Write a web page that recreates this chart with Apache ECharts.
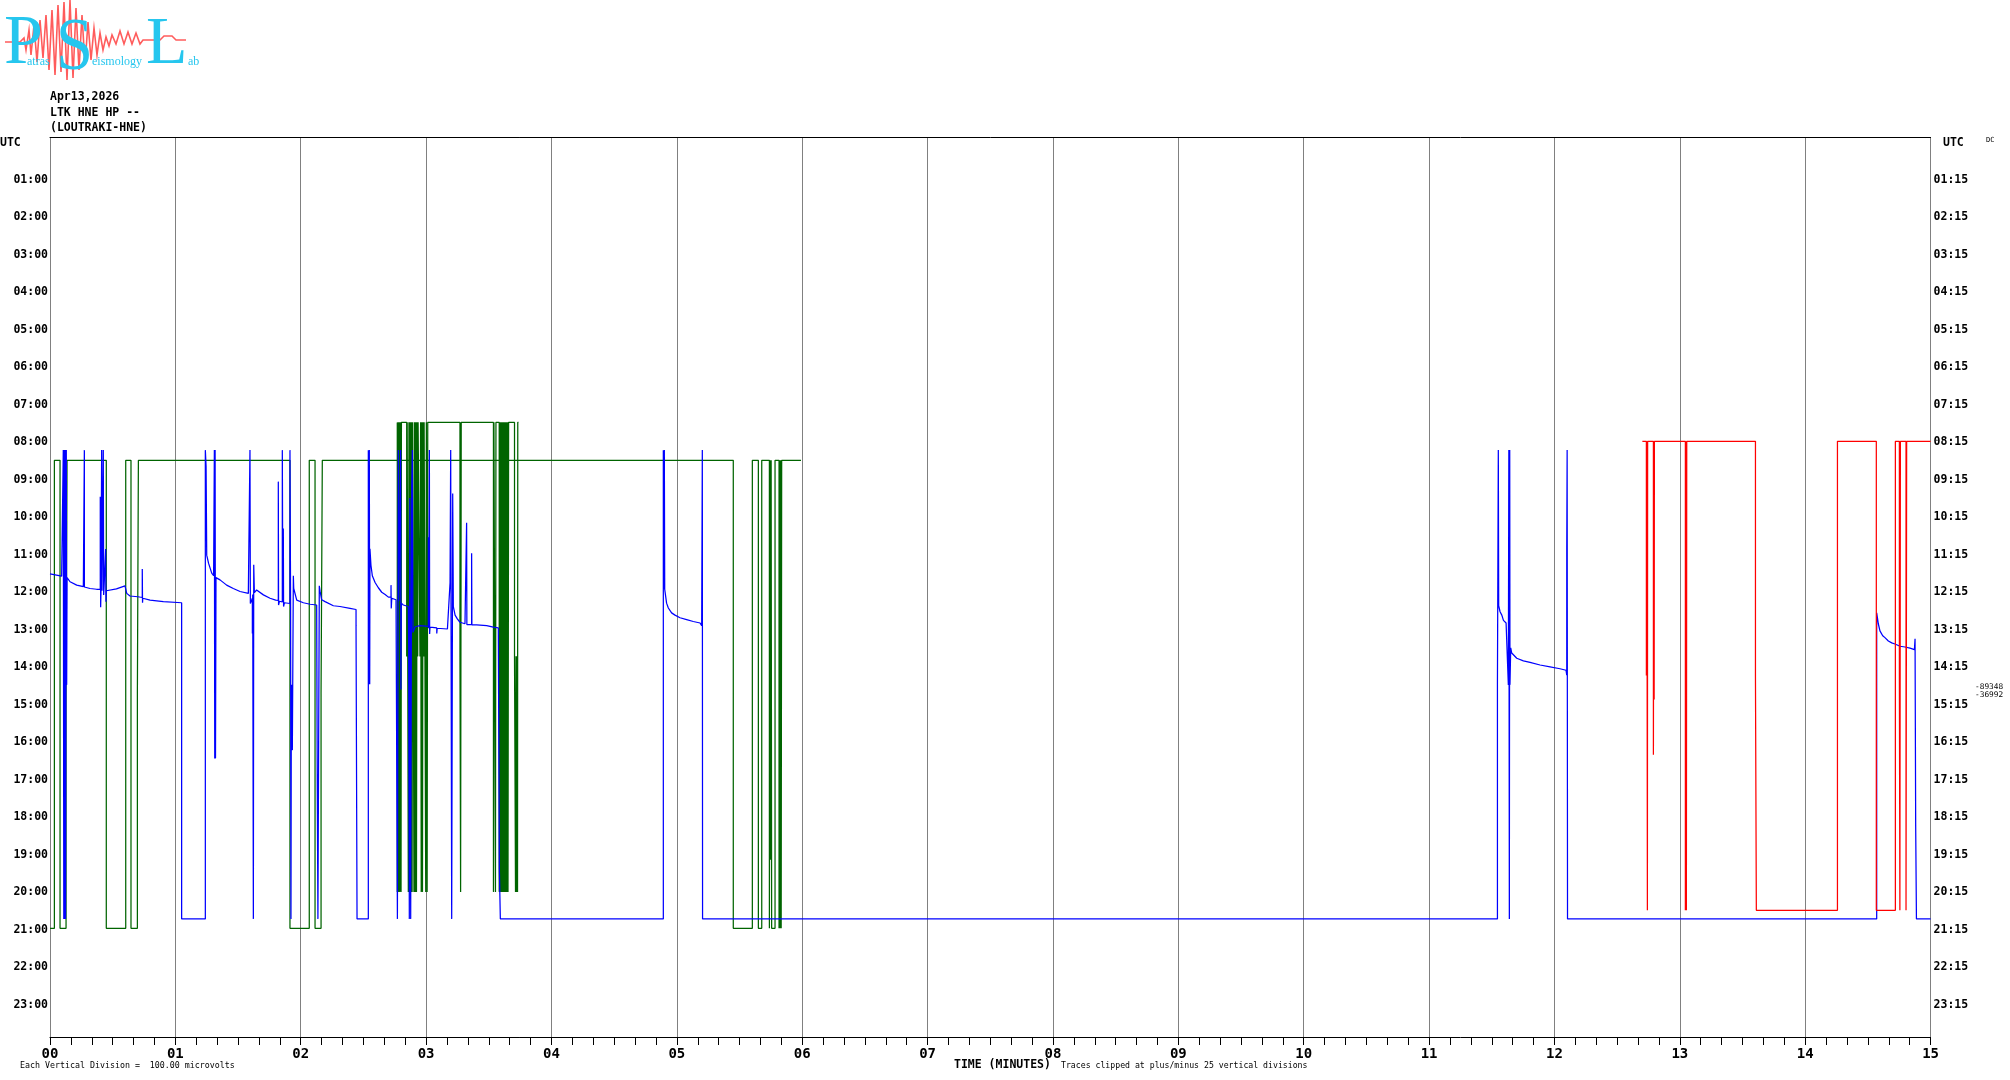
<!DOCTYPE html>
<html><head><meta charset="utf-8">
<script src="https://cdn.jsdelivr.net/npm/echarts@6/dist/echarts.min.js"></script>
<style>html,body{margin:0;padding:0;background:#fff}#c{width:2010px;height:1080px}</style>
</head><body><div id="c"></div>
<script>
// ---- tick labels ----
const minuteLabels = ['00','01','02','03','04','05','06','07','08','09','10','11','12','13','14','15'];
const leftHourLabels = ['','01:00','02:00','03:00','04:00','05:00','06:00','07:00','08:00','09:00','10:00','11:00','12:00','13:00','14:00','15:00','16:00','17:00','18:00','19:00','20:00','21:00','22:00','23:00',''];
const rightHourLabels = ['','01:15','02:15','03:15','04:15','05:15','06:15','07:15','08:15','09:15','10:15','11:15','12:15','13:15','14:15','15:15','16:15','17:15','18:15','19:15','20:15','21:15','22:15','23:15',''];

// ---- traces: [minute, row position (hours, downward)] ----
const blueTrace = [
[0.000,11.65],[0.093,11.71],[0.106,11.72],[0.106,8.35],[0.110,20.85],[0.113,8.35],[0.117,20.85],[0.120,8.35],[0.124,20.85],[0.127,14.61],[0.130,8.35],[0.133,14.61],[0.136,11.75],
[0.141,11.77],[0.160,11.86],[0.213,11.95],[0.266,11.99],[0.274,11.99],[0.274,8.35],[0.274,12.00],
[0.319,12.04],[0.372,12.06],[0.401,12.06],[0.401,9.59],[0.404,12.54],[0.407,12.08],[0.412,8.35],[0.415,12.10],[0.425,8.35],[0.428,12.21],[0.430,12.10],[0.444,10.99],[0.446,12.39],[0.450,12.10],
[0.465,12.12],[0.530,12.05],[0.598,11.97],[0.612,12.17],[0.638,12.24],[0.700,12.26],[0.736,12.28],[0.736,11.52],[0.738,12.42],[0.740,12.30],
[0.798,12.35],[0.904,12.39],[1.050,12.42],[1.050,20.85],[1.239,20.85],[1.239,8.35],[1.245,8.79],[1.250,11.15],[1.265,11.37],[1.290,11.63],[1.305,11.70],
[1.311,8.35],[1.314,16.57],[1.317,8.35],[1.320,16.57],[1.324,11.75],
[1.356,11.81],[1.409,11.95],[1.462,12.04],[1.516,12.12],[1.582,12.17],[1.595,12.18],[1.595,8.35],[1.598,12.44],[1.614,12.30],[1.614,13.24],[1.617,12.20],[1.622,20.85],[1.625,11.41],[1.630,12.15],
[1.648,12.08],[1.702,12.21],[1.755,12.30],[1.800,12.35],[1.821,12.36],[1.821,9.19],[1.823,12.48],[1.830,12.38],[1.853,12.40],[1.853,8.35],[1.857,12.40],[1.861,10.44],[1.863,12.52],[1.870,12.42],
[1.914,12.44],[1.914,8.35],[1.919,12.44],[1.922,20.85],[1.925,14.61],[1.928,16.35],[1.931,14.61],[1.933,16.35],[1.941,11.70],[1.944,12.04],
[1.968,12.35],[2.021,12.42],[2.075,12.46],[2.127,12.48],[2.132,17.41],[2.137,20.85],[2.143,20.85],[2.148,11.97],[2.154,12.11],[2.167,12.34],[2.194,12.39],[2.260,12.50],[2.313,12.52],[2.393,12.57],[2.441,12.60],[2.441,13.03],[2.449,13.03],[2.449,20.85],
[2.539,20.85],[2.539,8.35],[2.544,14.59],[2.547,8.35],[2.550,14.59],[2.552,10.98],[2.560,11.42],[2.571,11.70],[2.593,11.88],[2.619,12.02],[2.646,12.14],[2.673,12.20],[2.699,12.27],
[2.720,12.27],[2.720,11.95],[2.722,12.57],[2.726,12.30],[2.739,12.32],[2.760,12.34],
[2.771,12.36],[2.771,20.85],[2.775,14.70],[2.778,8.35],[2.782,12.38],[2.797,12.40],[2.797,8.35],[2.799,14.73],[2.802,12.43],
[2.818,12.48],[2.858,12.52],[2.861,13.63],[2.866,20.85],[2.870,9.63],[2.877,20.85],[2.885,9.33],[2.890,8.35],[2.895,13.21],[2.912,13.06],[2.951,13.03],
[3.018,13.05],[3.018,10.67],[3.020,13.10],[3.026,8.35],[3.028,13.25],[3.031,13.07],[3.085,13.09],[3.085,13.24],[3.088,13.10],[3.170,13.12],
[3.191,11.88],[3.196,8.35],[3.204,20.85],[3.212,9.51],[3.217,12.52],[3.231,12.75],[3.249,12.85],[3.270,12.94],[3.310,12.98],[3.323,12.98],[3.323,10.29],[3.325,13.00],[3.363,13.00],[3.363,11.10],[3.365,13.01],
[3.403,13.01],[3.483,13.03],[3.536,13.07],[3.576,13.09],[3.576,13.21],[3.584,13.21],[3.584,19.50],[3.592,19.50],[3.592,20.85],
[4.892,20.85],[4.892,8.35],[4.897,12.06],[4.900,8.35],[4.903,12.06],[4.918,12.43],[4.932,12.56],[4.958,12.69],[4.985,12.75],[5.025,12.82],[5.078,12.87],[5.131,12.92],[5.185,12.96],[5.198,13.03],[5.203,13.03],[5.203,8.35],[5.205,20.85],
[11.545,20.85],[11.545,14.61],[11.552,14.61],[11.552,8.35],[11.555,12.50],[11.566,12.66],[11.580,12.75],[11.593,12.89],[11.614,12.96],[11.624,13.00],[11.632,14.61],[11.636,8.35],[11.640,20.85],[11.643,8.35],[11.645,14.61],[11.651,13.62],[11.659,13.76],[11.672,13.81],[11.699,13.90],[11.752,13.97],[11.805,14.01],[11.885,14.08],[11.965,14.13],[12.044,14.18],[12.092,14.22],[12.098,14.35],[12.098,10.92],[12.101,10.92],[12.101,8.35],[12.104,20.85],
[14.570,20.85],[14.570,12.69],[14.575,12.80],[14.583,12.98],[14.596,13.17],[14.618,13.30],[14.636,13.35],[14.663,13.44],[14.690,13.49],[14.716,13.52],[14.756,13.58],[14.796,13.60],[14.836,13.63],[14.871,13.67],[14.876,13.38],[14.881,18.37],[14.887,20.85],[15.000,20.85]
];

const greenTrace = [
[0.000,21.10],[0.035,21.10],[0.035,8.62],[0.080,8.62],[0.080,21.10],[0.128,21.10],[0.128,14.83],[0.136,14.83],[0.136,8.62],
[0.449,8.62],[0.449,21.10],[0.604,21.10],[0.604,8.62],[0.646,8.62],[0.646,21.10],[0.697,21.10],[0.697,14.83],[0.705,14.83],[0.705,8.62],
[1.914,8.62],[1.914,21.10],[2.068,21.10],[2.068,8.62],[2.114,8.62],[2.114,21.10],[2.162,21.10],[2.162,14.85],[2.172,14.85],[2.172,8.62],
[5.450,8.62],[5.450,21.10],[5.602,21.10],[5.602,8.62],[5.650,8.62],[5.650,21.10],[5.677,21.10],[5.677,8.62],[5.738,8.62],[5.738,21.10],[5.743,21.10],[5.743,8.62],[5.747,8.62],[5.747,19.27],[5.752,19.27],[5.752,8.62],[5.756,8.62],[5.756,21.10],[5.783,21.10],[5.783,8.62],
[5.815,8.62],[5.815,21.10],[5.819,21.10],[5.819,8.62],[5.823,8.62],[5.823,21.10],[5.827,21.10],[5.827,8.62],[5.832,8.62],[5.832,21.10],[5.836,21.10],[5.836,8.62],[5.990,8.62]
];

const greenTrace2 = [
[2.770,7.61],[2.770,20.13],[2.775,20.13],[2.775,7.61],[2.780,7.61],[2.780,20.13],[2.785,20.13],[2.785,7.61],[2.790,7.61],[2.790,20.13],[2.795,20.13],[2.795,7.61],[2.800,7.61],[2.800,20.13],[2.803,20.13],[2.803,7.61],
[2.845,7.61],[2.845,13.85],[2.849,13.85],[2.849,7.61],
[2.858,7.61],[2.858,20.13],[2.863,20.13],[2.863,7.61],[2.868,7.61],[2.868,20.13],[2.873,20.13],[2.873,7.61],[2.878,7.61],[2.878,20.13],[2.883,20.13],[2.883,7.61],[2.888,7.61],[2.888,20.13],[2.893,20.13],[2.893,7.61],
[2.903,7.61],[2.903,20.13],[2.908,20.13],[2.908,7.61],[2.913,7.61],[2.913,20.13],[2.918,20.13],[2.918,7.61],[2.923,7.61],[2.923,20.13],[2.928,20.13],[2.928,7.61],[2.933,7.61],[2.933,13.85],[2.936,13.85],[2.936,7.61],
[2.951,7.61],[2.951,13.85],[2.956,13.85],[2.956,7.61],[2.961,7.61],[2.961,20.13],[2.966,20.13],[2.966,7.61],[2.971,7.61],[2.971,20.13],[2.976,20.13],[2.976,7.61],[2.981,7.61],[2.981,13.85],[2.984,13.85],[2.984,7.61],
[2.997,7.61],[2.997,20.13],[3.002,20.13],[3.002,7.61],[3.008,7.61],[3.008,20.13],[3.013,20.13],[3.013,7.61],
[3.270,7.61],[3.270,13.85],[3.275,13.85],[3.275,20.13],[3.280,20.13],[3.280,7.61],
[3.537,7.61],[3.537,20.13],[3.541,20.13],[3.541,7.61],[3.553,7.61],[3.553,20.13],[3.557,20.13],[3.557,7.61],
[3.583,7.61],[3.583,20.13],[3.588,20.13],[3.588,7.61],[3.593,7.61],[3.593,20.13],[3.598,20.13],[3.598,7.61],[3.603,7.61],[3.603,20.13],[3.608,20.13],[3.608,7.61],[3.613,7.61],[3.613,20.13],[3.618,20.13],[3.618,7.61],
[3.623,7.61],[3.623,20.13],[3.628,20.13],[3.628,7.61],[3.633,7.61],[3.633,20.13],[3.638,20.13],[3.638,7.61],[3.643,7.61],[3.643,20.13],[3.648,20.13],[3.648,7.61],[3.653,7.61],[3.653,20.13],[3.658,20.13],[3.658,7.61],
[3.705,7.61],[3.705,13.85],[3.713,13.85],[3.713,20.13],[3.717,20.13],[3.717,13.85],[3.721,13.85],[3.721,20.13],[3.725,20.13],[3.725,13.85],[3.729,13.85],[3.729,20.13],[3.731,20.13],[3.731,7.61],[3.737,7.61]
];

const redTrace = [
[12.701,8.115],[12.733,8.115],[12.733,14.36],[12.736,14.36],[12.736,8.115],[12.739,8.115],[12.739,14.36],[12.741,14.36],[12.741,20.62],[12.743,20.62],[12.743,8.115],
[12.789,8.115],[12.789,16.47],[12.792,16.47],[12.792,8.115],[12.795,8.115],[12.795,15.00],[12.797,15.00],[12.797,8.115],
[13.044,8.115],[13.044,20.62],[13.048,20.62],[13.048,8.115],[13.052,8.115],[13.052,20.62],[13.055,20.62],[13.055,8.115],
[13.603,8.115],[13.603,14.36],[13.610,14.36],[13.610,20.62],[14.257,20.62],[14.257,8.115],[14.567,8.115],[14.567,20.62],[14.719,20.62],[14.719,8.115],
[14.751,8.115],[14.751,14.36],[14.755,14.36],[14.755,20.62],[14.759,20.62],[14.759,8.115],[14.804,8.115],[14.804,20.62],[14.809,20.62],[14.809,8.115],[15.000,8.115]
];

const headerLines = ['Apr13,2026','LTK HNE HP --','(LOUTRAKI-HNE)'];
const clipValues = ['-89348','-36992'];

const MONO = '"DejaVu Sans Mono", "Liberation Mono", monospace';
const chart = echarts.init(document.getElementById('c'), null, {renderer:'canvas'});

function txt(text, x, y, font, opts) {
  opts = opts || {};
  return {type:'text', x:x, y:y, z:100, silent:true,
    style:Object.assign({text:text, font:font, fill:'#000', align:'left', verticalAlign:'middle', textAlign:'left', textVerticalAlign:'middle'}, opts)};
}

const CYAN = '#26c6ee';
const logoWave = [[5,42],[20,42],[24,38],[26,50],[29,30],[31,55],[34,25],[37,62],[40,20],[43,58],[46,15],[49,70],[52,10],[55,75],[58,5],[61,72],[64,2],[67,80],[70,0],[73,78],[76,8],[79,70],[82,15],[85,65],[88,22],[91,60],[94,28],[97,55],[100,33],[103,50],[106,37],[109,46],[112,35],[116,44],[120,31],[124,44],[128,32],[132,44],[136,33],[140,44],[143,40],[160,40],[164,36],[172,36],[176,40],[186,40]];

const graphics = [
  {type:'polyline', z:10, silent:true, shape:{points:logoWave}, style:{stroke:'#ff5c5c', lineWidth:1.6, fill:null}},
  txt('P', 4, 45, '70px "Liberation Serif"', {fill:CYAN}),
  {type:'text', x:56, y:50, z:100, scaleX:0.9, silent:true, style:{text:'S', font:'74px "Liberation Serif"', fill:CYAN, align:'left', verticalAlign:'middle', textAlign:'left', textVerticalAlign:'middle'}},
  txt('L', 146, 45, '68px "Liberation Serif"', {fill:CYAN}),
  txt('atras', 27, 61.5, '12px "Liberation Serif"', {fill:CYAN}),
  txt('eismology', 92, 61.5, '12px "Liberation Serif"', {fill:CYAN}),
  txt('ab', 188, 61.5, '12px "Liberation Serif"', {fill:CYAN}),
  txt(headerLines[0], 50, 97.5, 'bold 11.5px ' + MONO),
  txt(headerLines[1], 50, 113, 'bold 11.5px ' + MONO),
  txt(headerLines[2], 50, 128, 'bold 11.5px ' + MONO),
  txt('UTC', 0, 143, 'bold 11.5px ' + MONO),
  txt('UTC', 1943, 143, 'bold 11.5px ' + MONO),
  txt('DC', 1986, 140, '7px ' + MONO),
  txt(clipValues[0], 1975, 687, '7.8px ' + MONO),
  txt(clipValues[1], 1975, 695, '7.8px ' + MONO),
  txt('Each Vertical Division =  100.00 microvolts', 20, 1066, '8.3px ' + MONO),
  txt('TIME (MINUTES)', 954, 1065, 'bold 11.5px ' + MONO),
  txt('Traces clipped at plus/minus 25 vertical divisions', 1061, 1066, '8.2px ' + MONO)
];

function trace(data, color, z) {
  return {type:'line', data:data, xAxisIndex:0, yAxisIndex:0, showSymbol:false, symbol:'none',
    silent:true, animation:false, z:z, clip:true, lineStyle:{color:color, width:1.25}};
}

const option = {
  backgroundColor:'#ffffff',
  animation:false,
  grid:{left:50, right:79.4, top:137, bottom:43, show:false},
  xAxis:[
    {type:'value', position:'bottom', min:0, max:15, interval:1,
     axisLine:{show:true, onZero:false, lineStyle:{color:'#000', width:1}},
     axisTick:{show:true, length:8, lineStyle:{color:'#000', width:1}},
     minorTick:{show:true, splitNumber:6, length:8, lineStyle:{color:'#000', width:1}},
     splitLine:{show:true, lineStyle:{color:'#808080', width:1}},
     axisLabel:{formatter:function(v){return minuteLabels[Math.round(v)];}, fontFamily:MONO, fontWeight:'bold', fontSize:14, color:'#000', margin:10, showMinLabel:true, showMaxLabel:true}},
    {type:'value', position:'top', min:0, max:15, interval:1,
     axisLine:{show:true, onZero:false, lineStyle:{color:'#000', width:1}},
     axisTick:{show:false}, axisLabel:{show:false}, splitLine:{show:false}}
  ],
  yAxis:[
    {type:'value', position:'left', inverse:true, min:0, max:24, interval:1,
     axisLine:{show:false}, axisTick:{show:false}, splitLine:{show:false},
     axisLabel:{formatter:function(v){return leftHourLabels[Math.round(v)] || '';}, fontFamily:MONO, fontWeight:'bold', fontSize:11.5, color:'#000', margin:2, verticalAlign:'top', lineHeight:11, showMinLabel:true, showMaxLabel:true}},
    {type:'value', position:'right', inverse:true, min:0, max:24, interval:1,
     axisLine:{show:false}, axisTick:{show:false}, splitLine:{show:false},
     axisLabel:{formatter:function(v){return rightHourLabels[Math.round(v)] || '';}, fontFamily:MONO, fontWeight:'bold', fontSize:11.5, color:'#000', margin:3, verticalAlign:'top', lineHeight:11, showMinLabel:true, showMaxLabel:true}}
  ],
  graphic:graphics,
  series:[
    trace(greenTrace2, '#006400', 2),
    trace(greenTrace, '#006400', 3),
    trace(blueTrace, '#0000ff', 4),
    trace(redTrace, '#ff0000', 5)
  ]
};
chart.setOption(option);
</script>
</body></html>
